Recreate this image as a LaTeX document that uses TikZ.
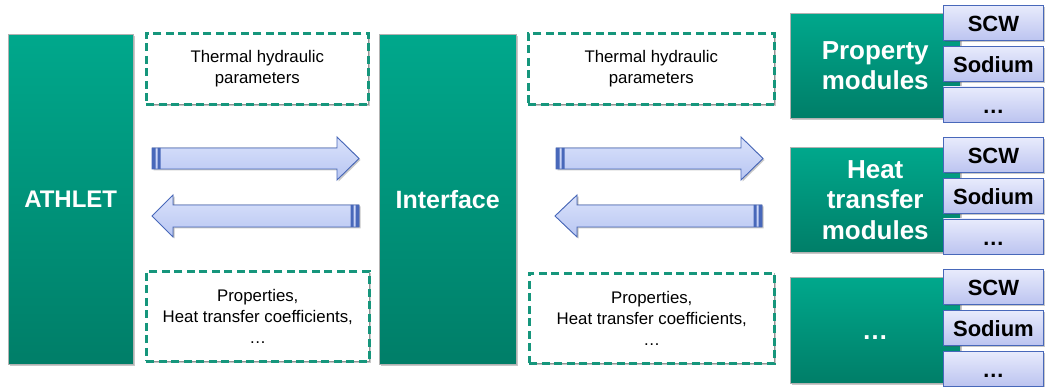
\documentclass[tikz,border=0pt]{standalone}
\usepackage{fontspec}
\setmainfont{Liberation Sans}
\usetikzlibrary{positioning,shadows}

\definecolor{tealtop}{RGB}{0,168,140}
\definecolor{tealbot}{RGB}{0,126,104}
\definecolor{dashteal}{RGB}{22,150,124}
\definecolor{arrowtop}{RGB}{218,226,251}
\definecolor{arrowbot}{RGB}{184,198,242}
\definecolor{arrowline}{RGB}{72,104,186}
\definecolor{subtop}{RGB}{232,235,252}
\definecolor{subbot}{RGB}{188,196,240}

\tikzset{
	softshadow/.style={drop shadow={opacity=0.3, fill=black!70, shadow xshift=1.5pt, shadow yshift=-1.5pt}},
	greenbox/.style={draw=black!30, top color=tealtop, bottom color=tealbot, text=white,
		anchor=north west, inner sep=0pt, align=center, softshadow},
	parbox/.style={draw=dashteal, line width=2.6pt, dash pattern=on 8pt off 4.5pt, fill=white,
		preaction={draw=black!30, line width=0.6pt, solid},
		anchor=north west, inner sep=0pt, align=center, softshadow,
		font=\fontsize{16.8}{21}\selectfont},
	subbox/.style={draw=arrowline, line width=0.8pt, top color=subtop, bottom color=subbot,
		minimum width=100pt, minimum height=35pt, inner sep=0pt, anchor=north west,
		text height=18pt, text depth=0pt, softshadow,
		font=\fontsize{22}{24}\selectfont\bfseries},
	blockarrow/.style={draw=arrowline, line width=0.9pt, top color=arrowtop, bottom color=arrowbot,
		line join=miter, softshadow},
}

\begin{document}
\begin{tikzpicture}[x=1pt, y=-1pt]
	\useasboundingbox[fill=white] (0,0) rectangle (1046,387);

	% main blocks
	\node[greenbox, minimum width=125pt, minimum height=330pt,
		font=\fontsize{24}{28}\selectfont\bfseries] (athlet) at (8,34) {ATHLET};
	\node[greenbox, minimum width=137pt, minimum height=330pt,
		font=\fontsize{25}{28}\selectfont\bfseries] (interface) at (379,34) {Interface};

	% exchanged data
	\node[parbox, minimum width=222pt, minimum height=71pt] (thL) at (145,32) {Thermal hydraulic\\parameters};
	\node[parbox, minimum width=223pt, minimum height=90pt] (propL) at (145,270) {Properties,\\Heat transfer coefficients,\\…};
	\node[parbox, minimum width=246pt, minimum height=71pt] (thR) at (527,32) {Thermal hydraulic\\parameters};
	\node[parbox, minimum width=245pt, minimum height=90pt] (propR) at (528,272) {Properties,\\Heat transfer coefficients,\\…};

	% arrows ATHLET <-> interface
	\filldraw[blockarrow] (152,148) -- (337,148) -- (337,137) -- (359,158.5) -- (337,180) -- (337,169) -- (152,169) -- cycle;
	\fill[arrowline] (152,148) rectangle (155.5,169) (157.5,148) rectangle (160.5,169);
	\filldraw[blockarrow] (359,205) -- (173,205) -- (173,195) -- (152,216) -- (173,237) -- (173,227) -- (359,227) -- cycle;
	\fill[arrowline] (359,205) rectangle (355.5,227) (353.5,205) rectangle (350.5,227);

	% arrows interface <-> modules
	\filldraw[blockarrow] (556,148) -- (741,148) -- (741,137) -- (763,158.5) -- (741,180) -- (741,169) -- (556,169) -- cycle;
	\fill[arrowline] (556,148) rectangle (559.5,169) (561.5,148) rectangle (564.5,169);
	\filldraw[blockarrow] (762,205) -- (577,205) -- (577,195) -- (555,216) -- (577,237) -- (577,227) -- (762,227) -- cycle;
	\fill[arrowline] (762,205) rectangle (758.5,227) (756.5,205) rectangle (753.5,227);

	% property modules
	\node[greenbox, minimum width=170pt, minimum height=105pt,
		font=\fontsize{26}{30.5}\selectfont\bfseries] (propmod) at (790,13) {Property\\modules};
	\node[subbox] (pscw) at (943,5) {SCW};
	\node[subbox, below=5pt of pscw] (psod) {Sodium};
	\node[subbox, below=5pt of psod] (pdots) {…};

	% heat transfer modules
	\node[greenbox, minimum width=170pt, minimum height=105pt,
		font=\fontsize{26}{30.5}\selectfont\bfseries] (htmod) at (790,147) {Heat\\transfer\\modules};
	\node[subbox] (hscw) at (943,137) {SCW};
	\node[subbox, below=5pt of hscw] (hsod) {Sodium};
	\node[subbox, below=5pt of hsod] (hdots) {…};

	% further modules
	\node[greenbox, minimum width=170pt, minimum height=106pt, text height=18.5pt, text depth=0pt,
		font=\fontsize{26}{30.5}\selectfont\bfseries] (othermod) at (790,277) {…};
	\node[subbox] (oscw) at (943,269) {SCW};
	\node[subbox, below=5pt of oscw] (osod) {Sodium};
	\node[subbox, below=5pt of osod] (odots) {…};
\end{tikzpicture}
\end{document}
